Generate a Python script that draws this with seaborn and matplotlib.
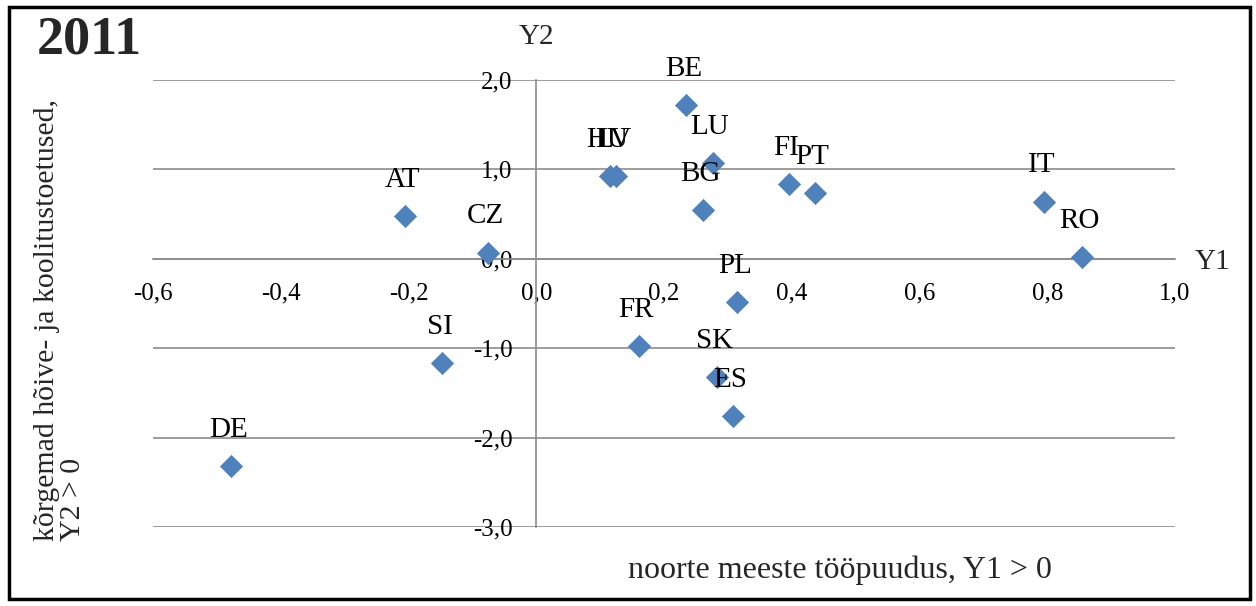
import matplotlib
matplotlib.use("Agg")
import matplotlib.pyplot as plt
import seaborn as sns
import pandas as pd
from matplotlib.patches import Rectangle
from matplotlib.ticker import FuncFormatter, FixedLocator

countries = ["BE", "HU", "LV", "LU", "BG", "FI", "PT", "IT", "RO", "AT", "CZ",
             "PL", "FR", "SK", "ES", "SI", "DE"]
y1_values = [0.235, 0.115, 0.125, 0.276, 0.261, 0.395, 0.437, 0.795, 0.855, -0.205, -0.075,
             0.315, 0.161, 0.283, 0.308, -0.147, -0.478]
y2_values = [1.72, 0.93, 0.93, 1.07, 0.55, 0.84, 0.74, 0.64, 0.02, 0.48, 0.07,
             -0.48, -0.98, -1.32, -1.76, -1.17, -2.32]
x_ticks = [-0.6, -0.4, -0.2, 0.0, 0.2, 0.4, 0.6, 0.8, 1.0]
y_ticks = [-3.0, -2.0, -1.0, 0.0, 1.0, 2.0]

df = pd.DataFrame({"country": countries, "Y1": y1_values, "Y2": y2_values})

sns.set_theme(style="white")
plt.rcParams["font.family"] = ["Liberation Serif", "DejaVu Serif"]

fig = plt.figure(figsize=(12.56, 6.06), dpi=100)
ax = fig.add_axes([0.1218, 0.1304, 0.8137, 0.7376])

sns.scatterplot(data=df, x="Y1", y="Y2", marker="D", s=140, color="#4F81BD",
                edgecolor="#4F81BD", linewidth=0, ax=ax, zorder=3, legend=False)

for c, x, y in zip(countries, y1_values, y2_values):
    ax.annotate(c, (x, y), xytext=(-2, 26), textcoords="offset points",
                ha="center", va="center", fontsize=21, color="black", zorder=4)

ax.set_xlim(x_ticks[0], x_ticks[-1])
ax.set_ylim(y_ticks[0], y_ticks[-1])
ax.xaxis.set_major_locator(FixedLocator(x_ticks))
ax.yaxis.set_major_locator(FixedLocator(y_ticks))
fmt = FuncFormatter(lambda v, p: f"{v:.1f}".replace(".", ","))
ax.xaxis.set_major_formatter(fmt)
ax.yaxis.set_major_formatter(fmt)

for s in ["top", "right"]:
    ax.spines[s].set_visible(False)
ax.spines["left"].set_position(("data", 0))
ax.spines["bottom"].set_position(("data", 0))
for s in ["left", "bottom"]:
    ax.spines[s].set_color("#8c8c8c")
    ax.spines[s].set_linewidth(1.2)

ax.yaxis.grid(True, color="#8c8c8c", linewidth=1.2)
ax.xaxis.grid(False)
ax.set_axisbelow(True)
ax.tick_params(axis="both", length=0, labelsize=18, colors="black")
ax.tick_params(axis="x", pad=17)
ax.tick_params(axis="y", pad=17)
ax.set_xlabel("")
ax.set_ylabel("")

fig.text(0.4275, 0.939, "Y2", fontsize=21, ha="center", va="center")
fig.text(0.965, 0.568, "Y1", fontsize=21, ha="center", va="center")
fig.text(0.029, 0.933, "2011", fontsize=39, fontweight="bold", ha="left", va="center")
fig.text(0.669, 0.059, "noorte meeste tööpuudus, Y1 > 0", fontsize=23, ha="center", va="center")
fig.text(0.048, 0.472, "kõrgemad hõive- ja koolitustoetused,\nY2 > 0", fontsize=21.5,
         rotation=90, ha="center", va="center", multialignment="left", linespacing=1.0)

fig.patches.append(Rectangle((0.007, 0.012), 0.988, 0.976, transform=fig.transFigure,
                             fill=False, edgecolor="black", linewidth=2.5))

fig.savefig("out.png", dpi=100)
